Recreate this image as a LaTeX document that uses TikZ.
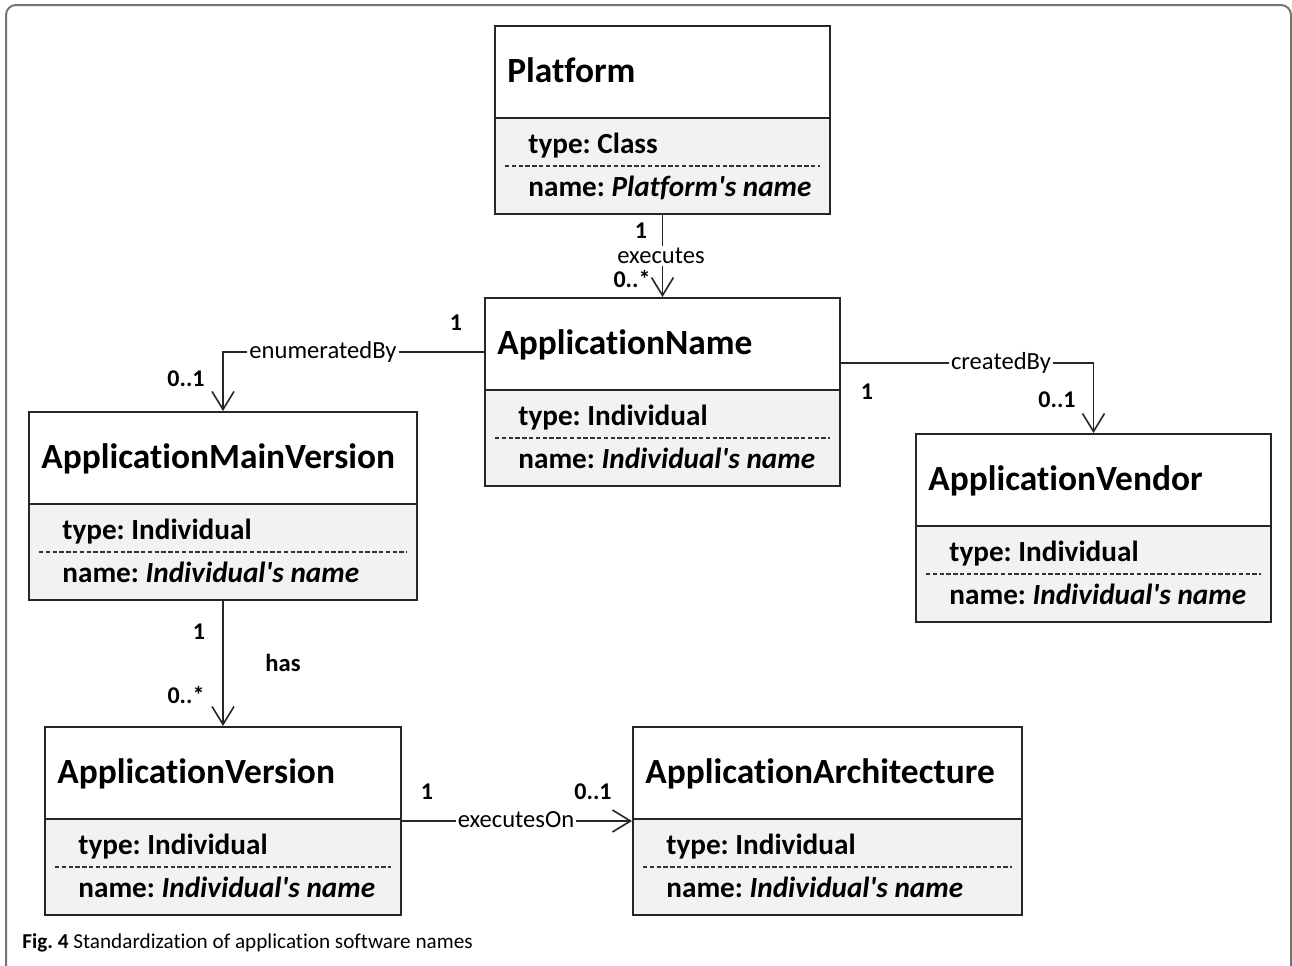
\documentclass[tikz,border=0pt]{standalone}
\usepackage{fontspec}
\setmainfont{Carlito}[Ligatures={NoCommon,NoContextual,TeXOff}]
\usetikzlibrary{arrows.meta,calc}
\frenchspacing

\tikzset{
  boxline/.style={draw=black!85, line width=1pt},
  attrfill/.style={fill=black!5},
  dashline/.style={draw=black!80, line width=0.6pt, dash pattern=on 2.2pt off 1.2pt},
  conn/.style={draw=black!85, line width=0.8pt},
  openarrow/.style={-{Straight Barb[length=9pt,width=11pt,line width=0.8pt]}},
  titletext/.style={anchor=base west, inner sep=0pt, font=\fontsize{17.7}{20}\selectfont\bfseries},
  attrtext/.style={anchor=base west, inner sep=0pt, font=\fontsize{14.6}{17}\selectfont\bfseries},
  linelabel/.style={fill=white, inner sep=1pt, font=\fontsize{12.3}{14}\selectfont},
  mult/.style={inner sep=0pt, font=\fontsize{12}{13}\selectfont\bfseries},
  frameline/.style={draw=black!55, line width=1pt, rounded corners=5},
}

% \classbox{name}{left}{top}{width}{title}{type}{name value}
\newcommand\classbox[7]{%
  \fill[attrfill] (#2,#3+93) rectangle (#2+#4,#3+188);
  \node[boxline, minimum width=#4*0.5pt, minimum height=94pt, inner sep=0pt,
        anchor=north west] (#1) at (#2,#3) {};
  \draw[boxline] (#2,#3+93) -- (#2+#4,#3+93);
  \draw[dashline] (#2+11,#3+141) -- (#2+#4-9,#3+141);
  \node[titletext] (#1-title) at (#2+13,#3+57) {#5};
  \node[attrtext] (#1-type) at (#2+34,#3+128) {type: #6};
  \node[attrtext] (#1-name) at (#2+34,#3+171) {name: \textit{#7}};
}

\begin{document}
\begin{tikzpicture}[x=0.5pt, y=-0.5pt]
  \useasboundingbox (0,0) rectangle (1292,965);

  % page frame, open at the bottom
  \draw[frameline] (6,975) -- (6,5) -- (1291,5) -- (1291,975);

  % classes
  \classbox{plat}{494}{25}{335}{Platform}{Class}{Platform's name}
  \classbox{appname}{484}{297}{355}{ApplicationName}{Individual}{Individual's name}
  \classbox{mainver}{28}{411}{388}{ApplicationMainVersion}{Individual}{Individual's name}
  \classbox{vendor}{915}{433}{355}{ApplicationVendor}{Individual}{Individual's name}
  \classbox{version}{44}{726}{356}{ApplicationVersion}{Individual}{Individual's name}
  \classbox{arch}{632}{726}{389}{ApplicationArchitecture}{Individual}{Individual's name}

  % executes
  \draw[conn, openarrow] (plat.south) -- (appname.north);
  \node[linelabel] (lexec) at (661,256) {executes};
  \node[mult] (mexec1) at (641,231) {1};
  \node[mult] (mexec2) at (632,279) {0..*};

  % enumeratedBy
  \coordinate (enumstart) at ($(appname.north west)+(0,55)$);
  \draw[conn, openarrow] (enumstart) -| (mainver.north);
  \node[linelabel] (lenum) at (323,352) {enumeratedBy};
  \node[mult] (menum1) at (456,323) {1};
  \node[mult] (menum2) at (186,379) {0..1};

  % createdBy
  \coordinate (createstart) at ($(appname.north east)+(0,66)$);
  \draw[conn, openarrow] (createstart) -| (vendor.north);
  \node[linelabel] (lcreate) at (1001,363) {createdBy};
  \node[mult] (mcreate1) at (867,392) {1};
  \node[mult] (mcreate2) at (1057,400) {0..1};

  % has
  \draw[conn, openarrow] (mainver.south) -- (version.north);
  \node[mult, font=\fontsize{12.3}{14}\selectfont\bfseries] (lhas) at (283,663) {has};
  \node[mult] (mhas1) at (199,632) {1};
  \node[mult] (mhas2) at (186,695) {0..*};

  % executesOn
  \draw[conn, openarrow] (version.east) -- (arch.west);
  \node[linelabel] (lexon) at (516,820) {executesOn};
  \node[mult] (mexon1) at (427,792) {1};
  \node[mult] (mexon2) at (593,792) {0..1};

  % caption
  \node[anchor=base west, inner sep=0pt, font=\fontsize{10.6}{12}\selectfont] (caption)
    at (22,948) {\textbf{Fig. 4} Standardization of application software names};
\end{tikzpicture}
\end{document}
